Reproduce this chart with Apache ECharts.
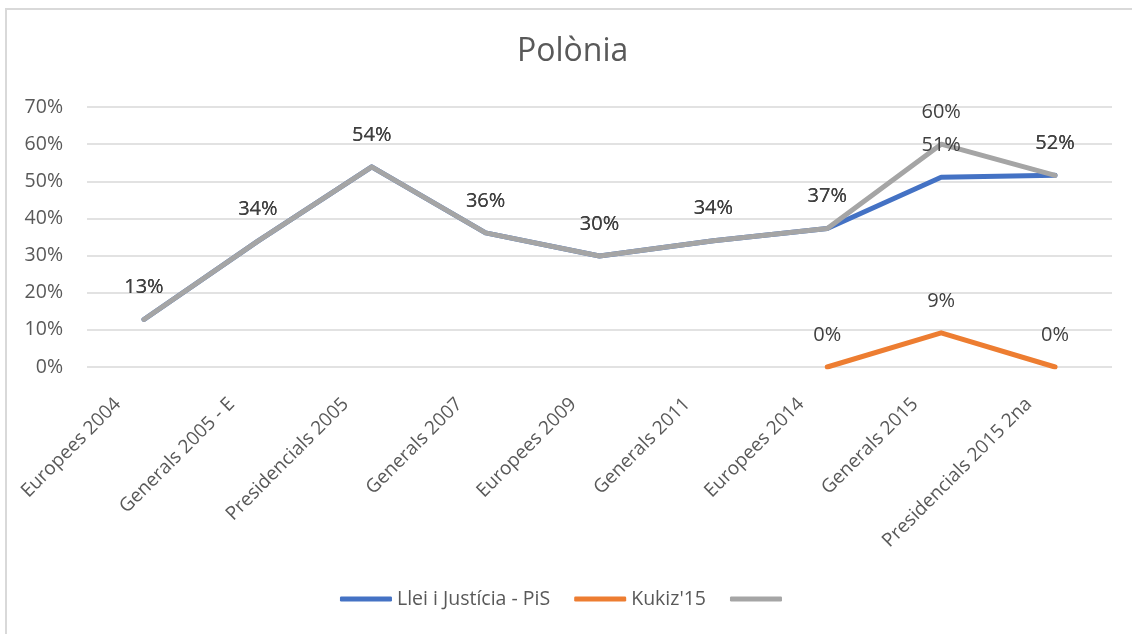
<!DOCTYPE html>
<html>
<head>
<meta charset="utf-8">
<script src="https://cdn.jsdelivr.net/npm/echarts@6/dist/echarts.min.js"></script>
<style>
  html, body { margin: 0; padding: 0; background: #fff; }
  #main { width: 1132px; height: 634px; }
  /* marc del gràfic, com a l'Excel */
  .frame {
    position: absolute; left: 5px; top: 8px; width: 1140px; height: 640px;
    border: 2px solid #d9d9d9; pointer-events: none; box-sizing: border-box;
  }
</style>
</head>
<body>
<div id="main"></div>
<div class="frame"></div>
<script>
// dades
const categories = ['Europees 2004', 'Generals 2005 - E', 'Presidencials 2005', 'Generals 2007',
    'Europees 2009', 'Generals 2011', 'Europees 2014', 'Generals 2015', 'Presidencials 2015 2na'];
const pis = [12.8, 33.9, 53.9, 36.1, 29.9, 34.0, 37.3, 51.1, 51.6];
const kukiz = [null, null, null, null, null, null, 0, 9.2, 0];
const total = [12.8, 33.9, 53.9, 36.1, 29.9, 34.0, 37.3, 60.0, 51.6];
const yTicks = [0, 10, 20, 30, 40, 50, 60, 70];

const font = '"Open Sans", "Noto Sans", sans-serif';

function lineSeries(name, data, color) {
    return {
        name: name,
        type: 'line',
        data: data,
        symbol: 'circle',
        symbolSize: 0,
        showSymbol: true,
        lineStyle: { color: color, width: 5, cap: 'round', join: 'round' },
        itemStyle: { color: color },
        label: {
            show: true,
            position: 'top',
            distance: 22,
            color: '#404040',
            fontSize: 20,
            fontFamily: font,
            formatter: p => Math.round(p.value) + '%'
        },
        emphasis: { disabled: true }
    };
}

const chart = echarts.init(document.getElementById('main'));
chart.setOption({
    animation: false,
    title: {
        text: 'Polònia',
        left: 512,
        top: 31,
        textStyle: { color: '#595959', fontSize: 32, fontWeight: 'normal', fontFamily: font }
    },
    legend: {
        bottom: 20,
        left: 'center',
        icon: 'roundRect',
        itemWidth: 52,
        itemHeight: 5,
        itemGap: 24,
        textStyle: { color: '#595959', fontSize: 19.5, fontFamily: font },
        data: ['Llei i Justícia - PiS', "Kukiz'15", ' ']
    },
    grid: { left: 87, right: 20, top: 107, bottom: 267, containLabel: false },
    xAxis: {
        type: 'category',
        data: categories,
        boundaryGap: true,
        axisLine: { show: false },
        axisTick: { show: false },
        axisLabel: {
            rotate: 45,
            interval: 0,
            margin: 8,
            color: '#595959',
            fontSize: 19,
            fontFamily: font,
            // buit al final per apartar l'etiqueta de la marca
            formatter: v => '{t|' + v + '}{pad|}',
            rich: {
                t: { color: '#595959', fontSize: 19, fontFamily: font },
                pad: { width: 37 }
            }
        }
    },
    yAxis: {
        type: 'value',
        min: yTicks[0],
        max: yTicks[yTicks.length - 1],
        interval: 10,
        axisLine: { show: false },
        axisTick: { show: false },
        splitLine: { lineStyle: { color: '#d9d9d9', width: 1.5 } },
        axisLabel: {
            margin: 24,
            color: '#595959',
            fontSize: 19.5,
            fontFamily: font,
            formatter: v => v + '%'
        }
    },
    series: [
        lineSeries('Llei i Justícia - PiS', pis, '#4472c4'),
        lineSeries("Kukiz'15", kukiz, '#ed7d31'),
        lineSeries(' ', total, '#a5a5a5')
    ]
});
</script>
</body>
</html>
